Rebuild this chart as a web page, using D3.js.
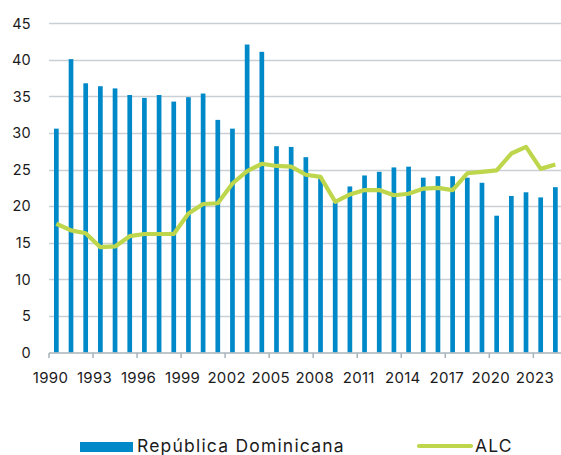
<!DOCTYPE html>
<html>
<head>
<meta charset="utf-8">
<script src="https://cdn.jsdelivr.net/npm/d3@7"></script>
<style>
  body { margin: 0; background: #fff; }
  svg { display: block; font-family: Inter, "Open Sans", sans-serif; }
</style>
</head>
<body>
<svg id="chart" width="561" height="455"></svg>
<script>
// data
var years = d3.range(1990, 2025);
var repDom = [30.6, 40.1, 36.8, 36.4, 36.1, 35.2, 34.8, 35.2, 34.3, 34.9,
              35.4, 31.8, 30.6, 42.1, 41.1, 28.2, 28.1, 26.7, 23.8, 20.5,
              22.7, 24.2, 24.7, 25.3, 25.4, 23.9, 24.1, 24.1, 23.9, 23.2,
              18.7, 21.4, 21.9, 21.2, 22.6];
var alc = [17.6, 16.7, 16.3, 14.4, 14.5, 15.9, 16.2, 16.2, 16.2, 19.0,
           20.3, 20.4, 23.1, 24.8, 25.8, 25.5, 25.4, 24.3, 24.0, 20.6,
           21.6, 22.2, 22.2, 21.5, 21.7, 22.4, 22.5, 22.2, 24.5, 24.7,
           24.9, 27.2, 28.1, 25.1, 25.7];
var yTicks = [0, 5, 10, 15, 20, 25, 30, 35, 40, 45];
var xTickYears = [1990, 1993, 1996, 1999, 2002, 2005, 2008, 2011, 2014, 2017, 2020, 2023];

var barColor = '#0089c8',
    lineColor = '#bed64c',
    gridColor = '#c9d0d5',
    axisColor = '#a7b3ba',
    textColor = '#1b1b1b';

var svg = d3.select('#chart');

var x = d3.scaleBand()
    .domain(years)
    .range([49, 562.7])
    .padding(0);

var y = d3.scaleLinear()
    .domain([0, 45])
    .range([352.5, 23.3]);

// gridlines
svg.append('g')
    .selectAll('line')
    .data(yTicks.filter(function (d) { return d > 0; }))
    .enter().append('line')
        .attr('x1', 49)
        .attr('x2', 561)
        .attr('y1', function (d) { return Math.round(y(d)) + 0.5; })
        .attr('y2', function (d) { return Math.round(y(d)) + 0.5; })
        .attr('stroke', gridColor)
        .attr('stroke-width', 1.3);

// y labels
svg.append('g')
    .selectAll('text')
    .data(yTicks)
    .enter().append('text')
        .attr('x', 31)
        .attr('y', function (d) { return y(d); })
        .attr('dy', '0.36em')
        .attr('text-anchor', 'end')
        .attr('font-size', 14.5)
        .attr('letter-spacing', 0.3)
        .attr('fill', textColor)
        .text(function (d) { return d; });

// bars
var barW = x.bandwidth() * 0.32;
svg.append('g')
    .selectAll('rect')
    .data(repDom)
    .enter().append('rect')
        .attr('x', function (d, i) { return x(years[i]) + (x.bandwidth() - barW) / 2; })
        .attr('y', function (d) { return y(d); })
        .attr('width', barW)
        .attr('height', function (d) { return y(0) - y(d); })
        .attr('fill', barColor);

// x axis
var axisY = y(0) + 0.5;
svg.append('line')
    .attr('x1', 49).attr('x2', 561)
    .attr('y1', axisY).attr('y2', axisY)
    .attr('stroke', axisColor)
    .attr('stroke-width', 1.5);

var tickG = svg.append('g')
    .selectAll('g')
    .data(xTickYears)
    .enter().append('g')
        .attr('transform', function (d) { return 'translate(' + x(d) + ',0)'; });

tickG.append('line')
    .attr('y1', axisY).attr('y2', axisY + 5)
    .attr('stroke', axisColor)
    .attr('stroke-width', 1.5);

tickG.append('text')
    .attr('x', 1.5)
    .attr('y', 383)
    .attr('text-anchor', 'middle')
    .attr('font-size', 15)
    .attr('letter-spacing', 0.3)
    .attr('fill', textColor)
    .text(function (d) { return d; });

// ALC line
var line = d3.line()
    .x(function (d, i) { return x(years[i]) + x.bandwidth() / 2; })
    .y(function (d) { return y(d); });

svg.append('path')
    .datum(alc)
    .attr('d', line)
    .attr('fill', 'none')
    .attr('stroke', lineColor)
    .attr('stroke-width', 4.2)
    .attr('stroke-linejoin', 'round');

// legend
var legend = svg.append('g');
legend.append('rect')
    .attr('x', 80).attr('y', 442)
    .attr('width', 53).attr('height', 10)
    .attr('fill', barColor);
legend.append('text')
    .attr('x', 137).attr('y', 452)
    .attr('font-size', 17.5)
    .attr('letter-spacing', 1.2)
    .attr('fill', textColor)
    .text('República Dominicana');

legend.append('line')
    .attr('x1', 419).attr('x2', 471)
    .attr('y1', 446).attr('y2', 446)
    .attr('stroke', lineColor)
    .attr('stroke-width', 4.2)
    .attr('stroke-linecap', 'round');
legend.append('text')
    .attr('x', 475).attr('y', 452)
    .attr('font-size', 17.5)
    .attr('letter-spacing', 1.2)
    .attr('fill', textColor)
    .text('ALC');
</script>
</body>
</html>
